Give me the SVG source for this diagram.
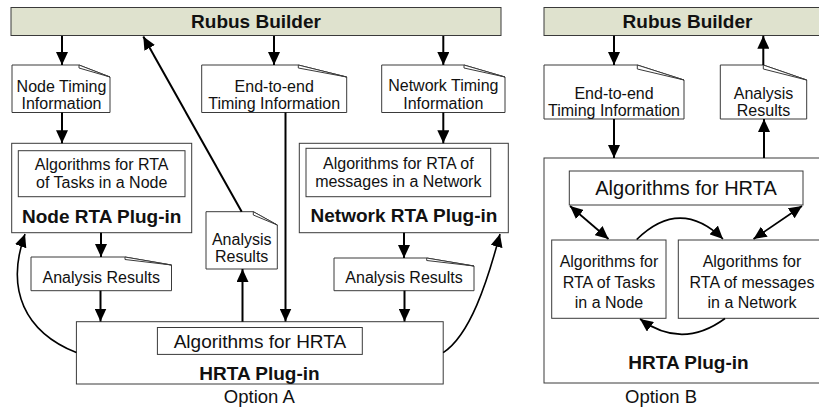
<svg xmlns="http://www.w3.org/2000/svg" width="819" height="414" viewBox="0 0 819 414">
<defs>
<style>
.box{fill:#fff;stroke:#3a3a3a;stroke-width:1}
.rubus{fill:#dfe2ce;stroke:#3a3a3a;stroke-width:1}
.doc{fill:#fff;stroke:#3a3a3a;stroke-width:1}
.fold{fill:#fff;stroke:#3a3a3a;stroke-width:1}
.t{font-family:"Liberation Sans",Arial,sans-serif;font-size:16px;fill:#111;text-anchor:middle}
.tl{font-family:"Liberation Sans",Arial,sans-serif;font-size:19px;fill:#111;text-anchor:middle}
.b{font-family:"Liberation Sans",Arial,sans-serif;font-size:19px;font-weight:bold;fill:#111;text-anchor:middle}
.ar{fill:none;stroke:#000;stroke-width:2;marker-end:url(#ah)}
.cv{fill:none;stroke:#000;stroke-width:1.6;marker-end:url(#ah)}
.dbl{fill:none;stroke:#000;stroke-width:1.8;marker-start:url(#ah2);marker-end:url(#ah2)}
</style>
<marker id="ah" markerUnits="userSpaceOnUse" markerWidth="14" markerHeight="12" refX="13" refY="6" orient="auto">
<path d="M0,0 L13,6 L0,12 Z" fill="#000"/>
</marker>
<marker id="ah2" markerUnits="userSpaceOnUse" markerWidth="14" markerHeight="12" refX="13" refY="6" orient="auto-start-reverse">
<path d="M0,0 L13,6 L0,12 Z" fill="#000"/>
</marker>
</defs>
<rect width="819" height="414" fill="#fff"/>

<!-- Option A -->
<g id="rubusA">
<rect class="rubus" x="11" y="7.5" width="490" height="28"/>
<text class="b" x="256" y="28">Rubus Builder</text>
</g>
<g id="nodeTiming">
<path class="doc" d="M12,65 H79 L110,77 V112.5 H12 Z"/>
<path class="fold" d="M79,65 V68 L110,77 Z"/>
<text class="t" x="61.5" y="91.5">Node Timing</text>
<text class="t" x="61.5" y="109">Information</text>
</g>
<g id="e2eA">
<path class="doc" d="M201.7,65 H298.3 L346.7,77 V112.5 H201.7 Z"/>
<path class="fold" d="M298.3,65 V68 L346.7,77 Z"/>
<text class="t" x="274.2" y="91.5">End-to-end</text>
<text class="t" x="274.2" y="109">Timing Information</text>
</g>
<g id="netTiming">
<path class="doc" d="M381.7,65 H464 L505,77 V112.5 H381.7 Z"/>
<path class="fold" d="M464,65 V68 L505,77 Z"/>
<text class="t" x="443.3" y="91">Network Timing</text>
<text class="t" x="443.3" y="108.5">Information</text>
</g>
<g id="nodeRTA">
<rect class="box" x="11.7" y="143.3" width="180" height="89.4"/>
<rect class="box" x="18.3" y="150.7" width="166.7" height="46"/>
<text class="t" x="101.7" y="170">Algorithms for RTA</text>
<text class="t" x="101.7" y="188.3">of Tasks in a Node</text>
<text class="b" x="101.7" y="222.7">Node RTA Plug-in</text>
</g>
<g id="netRTA">
<rect class="box" x="299.3" y="143.3" width="209" height="89.4"/>
<rect class="box" x="306" y="148.3" width="184.7" height="48.4"/>
<text class="t" x="398.3" y="169.3">Algorithms for RTA of</text>
<text class="t" x="398.3" y="186.7">messages in a Network</text>
<text class="b" x="404" y="221.7">Network RTA Plug-in</text>
</g>
<g id="analysisMid">
<path class="doc" d="M206,211.7 H253.3 L277.3,225 V269 H206 Z"/>
<path class="fold" d="M253.3,211.7 V215 L277.3,225 Z"/>
<text class="t" x="241.7" y="245">Analysis</text>
<text class="t" x="241.7" y="261.7">Results</text>
</g>
<g id="analysisLeft">
<path class="doc" d="M31,257 H125 L171.5,265 V290.7 H31 Z"/>
<path class="fold" d="M125,257 V259.5 L171.5,265 Z"/>
<text class="t" x="101.2" y="283">Analysis Results</text>
</g>
<g id="analysisRight">
<path class="doc" d="M334,258 H426.7 L474,266 V290.7 H334 Z"/>
<path class="fold" d="M426.7,258 V260.5 L474,266 Z"/>
<text class="t" x="404" y="283">Analysis Results</text>
</g>
<g id="hrtaA">
<rect class="box" x="76.4" y="321.7" width="366.8" height="62.3"/>
<rect class="box" x="157.4" y="327.5" width="204.9" height="26.9"/>
<text class="tl" x="259.9" y="347.5">Algorithms for HRTA</text>
<text class="b" x="259.5" y="379.5">HRTA Plug-in</text>
</g>
<text id="optA" class="t" style="font-size:18.5px" x="259.3" y="403">Option A</text>

<!-- Option B -->
<g id="rubusB">
<rect class="rubus" x="544" y="7.5" width="287" height="28"/>
<text class="b" x="687.5" y="28">Rubus Builder</text>
</g>
<g id="e2eB">
<path class="doc" d="M544,65 H637.3 L684,80 V119 H544 Z"/>
<path class="fold" d="M637.3,65 V69 L684,80 Z"/>
<text class="t" x="614" y="99">End-to-end</text>
<text class="t" x="614" y="116">Timing Information</text>
</g>
<g id="analysisB">
<path class="doc" d="M720.3,65 H763.3 L806.7,80 V119 H720.3 Z"/>
<path class="fold" d="M763.3,65 V69 L806.7,80 Z"/>
<text class="t" x="763.5" y="99">Analysis</text>
<text class="t" x="763.5" y="116">Results</text>
</g>
<g id="hrtaB">
<rect class="box" x="544" y="158" width="288" height="225"/>
<text class="b" x="688.5" y="369.3">HRTA Plug-in</text>
</g>
<g id="algHRTAB">
<rect class="box" x="569.3" y="171" width="233.7" height="34"/>
<text class="tl" style="font-size:20px" x="686" y="195">Algorithms for HRTA</text>
</g>
<g id="algNodeB">
<rect class="box" x="551.7" y="240" width="114.3" height="78.3"/>
<text class="t" x="609" y="267.3">Algorithms for</text>
<text class="t" x="609" y="288.3">RTA of Tasks</text>
<text class="t" x="609" y="308.3">in a Node</text>
</g>
<g id="algNetB">
<rect class="box" x="678.3" y="240" width="146" height="78.3"/>
<text class="t" x="752" y="267.3">Algorithms for</text>
<text class="t" x="752" y="288.3">RTA of messages</text>
<text class="t" x="752" y="308.3">in a Network</text>
</g>
<text id="optB" class="t" style="font-size:18.5px;text-anchor:start" x="625" y="403">Option B</text>

<g id="connectors">
<path class="ar" d="M62,36 V65"/>
<path class="ar" d="M274,36 V65"/>
<path class="ar" d="M443.3,36 V65"/>
<path class="ar" d="M62,112.5 V143.3"/>
<path class="ar" d="M443.3,112.5 V143.3"/>
<path class="ar" d="M241.7,211.7 L143.3,36.5"/>
<path class="ar" d="M285.5,112.5 V321.5"/>
<path class="ar" d="M101,232.7 V257"/>
<path class="ar" d="M404,232.7 V258"/>
<path class="ar" d="M100.5,290.7 V321.5"/>
<path class="ar" d="M404.5,290.7 V321.5"/>
<path class="ar" d="M242.5,321.7 V269"/>
<path class="cv" d="M76.4,352.6 C25,332 5,290 25,234"/>
<path class="cv" d="M443.2,352.6 C470,335 487,283 500,234"/>
<path class="ar" d="M614,35.7 V65"/>
<path class="ar" d="M614,119 V158"/>
<path class="ar" d="M764,158 V119"/>
<path class="ar" d="M763.3,65 V35.7"/>
<path class="dbl" d="M570,206 L608.5,239"/>
<path class="dbl" d="M802,206 L753.5,239"/>
<path class="cv" d="M636.7,239.5 Q680,197 723,239"/>
<path class="cv" d="M725,318.5 Q682,350 640,319"/>
</g>
</svg>
